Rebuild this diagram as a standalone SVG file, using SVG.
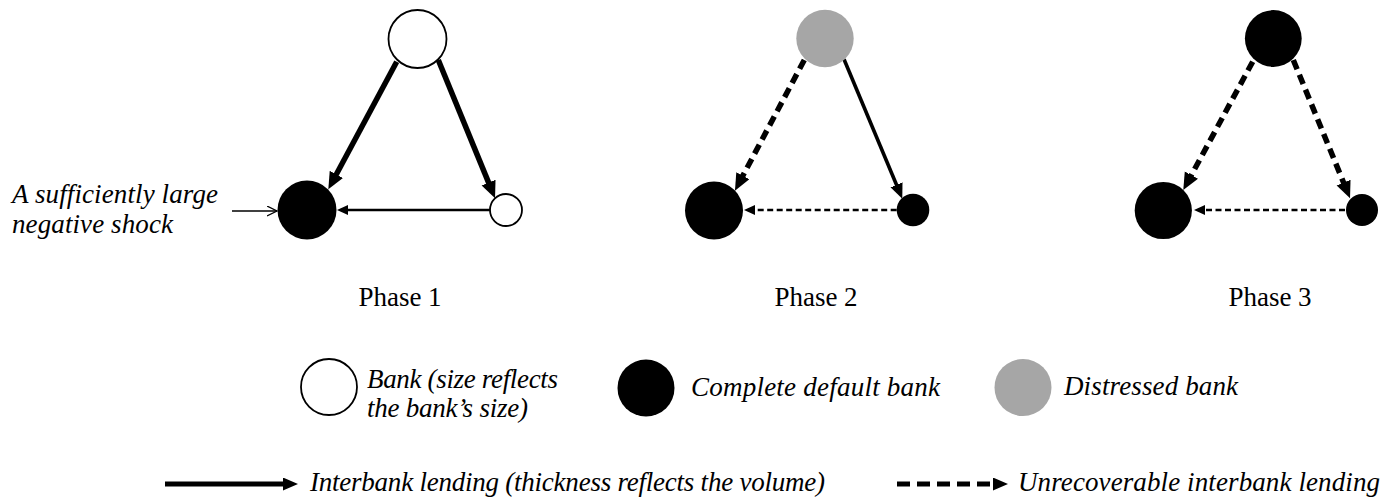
<svg xmlns="http://www.w3.org/2000/svg" width="1395" height="497" viewBox="0 0 1395 497">
<style>
  text { font-family: "Liberation Serif", "Times New Roman", serif; fill: #000; }
  .it { font-style: italic; font-size: 27px; }
  .ph { font-size: 27px; text-anchor: middle; }
  .bank { fill: #fff; stroke: #000; stroke-width: 1.8; }
  .def { fill: #000; }
  .dis { fill: #a6a6a6; }
  .thick { stroke: #000; stroke-width: 5.5; fill: none; }
  .mid { stroke: #000; stroke-width: 3.6; fill: none; }
  .thin { stroke: #000; stroke-width: 2.5; fill: none; }
  .dthick { stroke: #000; stroke-width: 5.5; fill: none; stroke-dasharray: 10 6; }
  .dthin { stroke: #000; stroke-width: 2.5; fill: none; stroke-dasharray: 6 3.5; }
  .lthick { stroke: #000; stroke-width: 5; fill: none; }
  .ldash { stroke: #000; stroke-width: 5; fill: none; stroke-dasharray: 13 7; }
</style>
<defs>
  <marker id="hL" markerUnits="userSpaceOnUse" markerWidth="18" markerHeight="16" refX="9" refY="7.5" orient="auto">
    <path d="M0,0 L17,7.5 L0,15 z" fill="#000" stroke="none"/>
  </marker>
  <marker id="hM" markerUnits="userSpaceOnUse" markerWidth="16" markerHeight="14" refX="7" refY="6.5" orient="auto">
    <path d="M0,0 L15,6.5 L0,13 z" fill="#000" stroke="none"/>
  </marker>
  <marker id="hS" markerUnits="userSpaceOnUse" markerWidth="12" markerHeight="11" refX="5" refY="5" orient="auto">
    <path d="M0,0 L11,5 L0,10 z" fill="#000" stroke="none"/>
  </marker>
  <marker id="hO" markerUnits="userSpaceOnUse" markerWidth="12" markerHeight="12" refX="10" refY="5" orient="auto">
    <path d="M0,0 L10,5 L0,10" fill="none" stroke="#000" stroke-width="1.3"/>
  </marker>
</defs>

<g id="connectors">
  <!-- Phase 1 -->
  <path class="thick" d="M396.7,61.7 L332.1,182.3" marker-end="url(#hL)"/>
  <path class="thick" d="M438.3,60 L492,190.9" marker-end="url(#hL)"/>
  <path class="thin" d="M490,210 L343,210" marker-end="url(#hS)"/>
  <path stroke="#000" stroke-width="1.3" fill="none" d="M232,211 L277,211" marker-end="url(#hO)"/>
  <!-- Phase 2 -->
  <path class="dthick" d="M804.3,60 L738.7,183.6" marker-end="url(#hL)"/>
  <path class="mid" d="M844,59.3 L899.2,191.3" marker-end="url(#hM)"/>
  <path class="dthin" d="M896.7,210 L750,210" marker-end="url(#hS)"/>
  <!-- Phase 3 -->
  <path class="dthick" d="M1252.7,61.7 L1187.1,183" marker-end="url(#hL)"/>
  <path class="dthick" d="M1293.3,60 L1347,190.9" marker-end="url(#hL)"/>
  <path class="dthin" d="M1345,210 L1200,210" marker-end="url(#hS)"/>
</g>

<g id="phase1">
  <g id="p1-top"><circle class="bank" cx="417.5" cy="39" r="29"/></g>
  <g id="p1-left"><circle class="def" cx="307" cy="210" r="29.5"/></g>
  <g id="p1-right"><circle class="bank" cx="506" cy="210" r="16"/></g>
  <g id="p1-shock"><text class="it" x="12" y="203" textLength="206">A sufficiently large</text><text class="it" x="12" y="233" textLength="161">negative shock</text></g>
  <text id="p1-label" class="ph" x="400" y="306">Phase 1</text>
</g>

<g id="phase2">
  <g id="p2-top"><circle class="dis" cx="825" cy="38.5" r="28.7"/></g>
  <g id="p2-left"><circle class="def" cx="714" cy="210.5" r="29"/></g>
  <g id="p2-right"><circle class="def" cx="913" cy="210" r="16.3"/></g>
  <text id="p2-label" class="ph" x="816" y="306">Phase 2</text>
</g>

<g id="phase3">
  <g id="p3-top"><circle class="def" cx="1273.3" cy="38.5" r="28.4"/></g>
  <g id="p3-left"><circle class="def" cx="1163.3" cy="210.5" r="28.6"/></g>
  <g id="p3-right"><circle class="def" cx="1362" cy="210" r="16"/></g>
  <text id="p3-label" class="ph" x="1270" y="306">Phase 3</text>
</g>

<g id="legend">
  <g id="lg-bank"><circle class="bank" cx="329" cy="387" r="28"/><text class="it" x="367" y="388" textLength="191">Bank (size reflects</text><text class="it" x="367" y="417" textLength="161">the bank’s size)</text></g>
  <g id="lg-default"><circle class="def" cx="646" cy="388" r="28.5"/><text class="it" x="691" y="396" textLength="249">Complete default bank</text></g>
  <g id="lg-distressed"><circle class="dis" cx="1023" cy="387.5" r="28.5"/><text class="it" x="1064" y="395" textLength="174">Distressed bank</text></g>
  <g id="lg-lending"><path class="lthick" d="M165,484 L290,484" marker-end="url(#hM)"/><text class="it" x="310" y="491" textLength="515">Interbank lending (thickness reflects the volume)</text></g>
  <g id="lg-unrec"><path class="ldash" d="M897,484 L1000,484" marker-end="url(#hM)"/><text class="it" x="1018" y="491" textLength="362">Unrecoverable interbank lending</text></g>
</g>
</svg>
